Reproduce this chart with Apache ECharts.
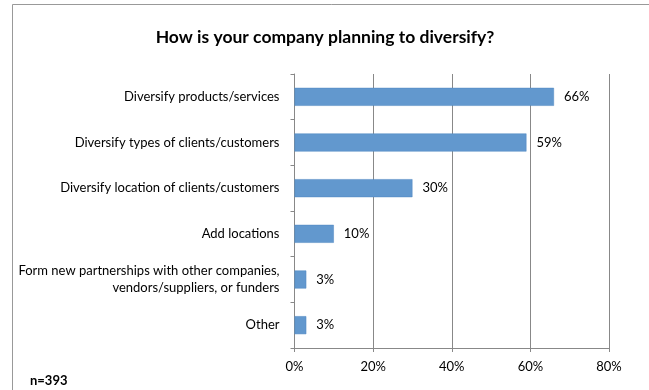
<!DOCTYPE html>
<html>
<head>
<meta charset="utf-8">
<script src="https://cdn.jsdelivr.net/npm/echarts@6/dist/echarts.min.js"></script>
<style>
  html, body { margin: 0; padding: 0; background: #fff; }
  #chart { width: 649px; height: 390px; }
</style>
</head>
<body>
<div id="chart"></div>
<script>
// Survey answers, listed top to bottom
const categories = [
  'Diversify products/services',
  'Diversify types of clients/customers',
  'Diversify location of clients/customers',
  'Add locations',
  'Form new partnerships with other companies,\nvendors/suppliers, or funders',
  'Other'
];
const shares = [66, 59, 30, 10, 3, 3];
const xTicks = [0, 20, 40, 60, 80];
const titleText = 'How is your company planning to diversify?';
const sampleNote = 'n=393';

const FONT = 'Lato, "Open Sans", sans-serif';
const chart = echarts.init(document.getElementById('chart'), null, { renderer: 'canvas' });

chart.setOption({
  animation: false,
  backgroundColor: '#fff',
  title: {
    text: titleText,
    left: 320,
    textAlign: 'center',
    top: 23,
    textStyle: { fontFamily: FONT, fontSize: 17.5, fontWeight: 'bold', color: '#000' }
  },
  grid: { left: 294.5, right: 40, top: 74, bottom: 42 },
  xAxis: {
    type: 'value',
    min: xTicks[0],
    max: xTicks[xTicks.length - 1],
    interval: 20,
    axisLine: { show: true, lineStyle: { color: '#888', width: 1 } },
    axisTick: { show: true, length: 4, lineStyle: { color: '#888' } },
    splitLine: { show: true, lineStyle: { color: '#888', width: 1 } },
    axisLabel: {
      formatter: v => v + '%',
      fontFamily: FONT, fontSize: 13, color: '#000', margin: 12
    }
  },
  yAxis: {
    type: 'category',
    inverse: true,
    data: categories,
    axisLine: { show: true, lineStyle: { color: '#888', width: 1 } },
    axisTick: { show: true, length: 4, lineStyle: { color: '#888' } },
    axisLabel: {
      fontFamily: FONT, fontSize: 13, color: '#000', margin: 15,
      lineHeight: 17, align: 'right'
    }
  },
  series: [{
    type: 'bar',
    data: shares,
    barWidth: 18,
    itemStyle: { color: '#6298CE', borderColor: '#4F86C0', borderWidth: 0.5 },
    label: {
      show: true,
      position: 'right',
      distance: 10,
      formatter: p => p.value + '%',
      fontFamily: FONT, fontSize: 13, color: '#000'
    }
  }],
  graphic: [
    {
      type: 'rect',
      shape: { x: 12.5, y: 4.5, width: 700, height: 500 },
      style: { fill: null, stroke: '#999', lineWidth: 1 },
      silent: true, z: -1
    },
    {
      type: 'text',
      left: 30, top: 374,
      style: { text: sampleNote, font: 'bold 13px ' + FONT, fill: '#000' }
    }
  ]
});
</script>
</body>
</html>
